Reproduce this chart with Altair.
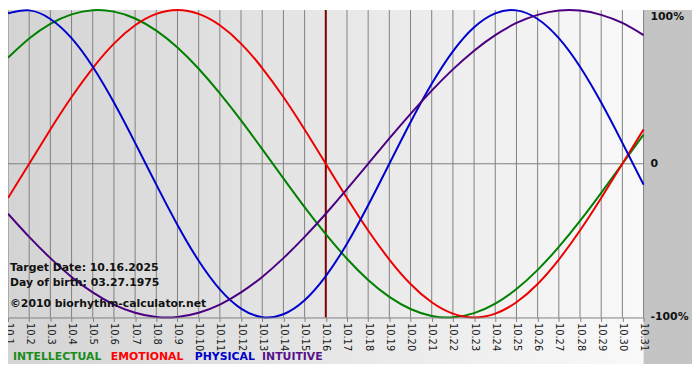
import altair as alt
import pandas as pd

# ---- data ----
day_labels = ["10.1", "10.2", "10.3", "10.4", "10.5", "10.6", "10.7", "10.8", "10.9", "10.10",
              "10.11", "10.12", "10.13", "10.14", "10.15", "10.16", "10.17", "10.18", "10.19", "10.20",
              "10.21", "10.22", "10.23", "10.24", "10.25", "10.26", "10.27", "10.28", "10.29", "10.30", "10.31"]

intellectual = [0.690, 0.815, 0.910, 0.972, 0.999, 0.990, 0.945, 0.866, 0.756, 0.618,
                0.458, 0.282, 0.095, -0.095, -0.282, -0.458, -0.618, -0.756, -0.866, -0.945,
                -0.990, -0.999, -0.972, -0.910, -0.815, -0.690, -0.541, -0.372, -0.189, 0.000, 0.189]
emotional = [-0.223, 0.000, 0.223, 0.434, 0.623, 0.782, 0.901, 0.975, 1.000, 0.975,
             0.901, 0.782, 0.623, 0.434, 0.223, 0.000, -0.223, -0.434, -0.623, -0.782,
             -0.901, -0.975, -1.000, -0.975, -0.901, -0.782, -0.623, -0.434, -0.223, 0.000, 0.223]
physical = [0.979, 0.998, 0.942, 0.817, 0.631, 0.398, 0.136, -0.136, -0.398, -0.631,
            -0.817, -0.942, -0.998, -0.979, -0.888, -0.731, -0.520, -0.270, 0.000, 0.270,
            0.520, 0.731, 0.888, 0.979, 0.998, 0.942, 0.817, 0.631, 0.398, 0.136, -0.136]
intuitive = [-0.325, -0.476, -0.614, -0.736, -0.837, -0.916, -0.969, -0.997, -0.997, -0.969,
             -0.916, -0.837, -0.736, -0.614, -0.476, -0.325, -0.165, 0.000, 0.165, 0.325,
             0.476, 0.614, 0.736, 0.837, 0.916, 0.969, 0.997, 0.997, 0.969, 0.916, 0.837]

series_names = ["INTELLECTUAL", "EMOTIONAL", "PHYSICAL", "INTUITIVE"]
target_day = "10.16"
info_lines = ["Target Date: 10.16.2025", "Day of birth: 03.27.1975", "\u00a92010 biorhythm-calculator.net"]
pct_values = [1, 0, -1]
pct_labels = ["100%", "0", "-100%"]

# ---- styles / layout ----
line_colors = ["#008000", "#ee0000", "#0000cc", "#4b0082"]
legend_colors = ["#1a8c1a", "#ff0000", "#0000cc", "#55128a"]
legend_x = [5, 104, 189, 257]
W, H = 643, 311
RIGHT, BOTTOM = 49, 47
FONT = "DejaVu Sans"

rows = []
for name, vals in zip(series_names, [intellectual, emotional, physical, intuitive]):
    for d, v in zip(day_labels, vals):
        rows.append({"day": d, "value": v, "series": name})
df = pd.DataFrame(rows)

one = pd.DataFrame({"k": [0]})

x_enc = alt.X(
    "day:O",
    sort=day_labels,
    scale=alt.Scale(type="point", padding=0, domain=day_labels),
    axis=alt.Axis(
        title=None, labelAngle=90, labelAlign="left", labelBaseline="middle",
        grid=False, zindex=1,
        ticks=True, tickSize=4, tickColor="#808080",
        domain=True, domainColor="#808080",
        labelFont=FONT, labelFontSize=10, labelColor="#1a1a1a", labelPadding=1,
        labelOverlap=False, labelFlush=False,
    ),
)
y_scale = alt.Scale(domain=[-1, 1], nice=False, zero=False)

gradient = alt.LinearGradient(
    gradient="linear",
    stops=[alt.GradientStop(color="#d4d4d4", offset=0), alt.GradientStop(color="#f9f9f9", offset=1)],
    x1=0, x2=1, y1=0, y2=0,
)

bg = alt.Chart(one).mark_rect(fill=gradient).encode(
    x=alt.value(0), x2=alt.value(W), y=alt.value(0), y2=alt.value(H + BOTTOM)
)
strip = alt.Chart(one).mark_rect(fill="#c4c4c4").encode(
    x=alt.value(W), x2=alt.value(W + RIGHT), y=alt.value(0), y2=alt.value(H + BOTTOM)
)

grid_rules = alt.Chart(pd.DataFrame({"day": day_labels})).mark_rule(
    color="#808080", strokeWidth=1
).encode(x=x_enc)

target_rule = alt.Chart(pd.DataFrame({"day": [target_day]})).mark_rule(
    color="#800000", strokeWidth=2
).encode(x=x_enc)

zero_rule = alt.Chart(pd.DataFrame({"v": [0]})).mark_rule(color="#808080", strokeWidth=1).encode(
    y=alt.Y("v:Q", scale=y_scale, axis=None)
)

lines = alt.Chart(df).mark_line(interpolate="natural", strokeWidth=2).encode(
    x=x_enc,
    y=alt.Y("value:Q", scale=y_scale, axis=None),
    color=alt.Color("series:N", scale=alt.Scale(domain=series_names, range=line_colors), legend=None),
)

pct_df = pd.DataFrame({"v": pct_values, "t": pct_labels})
pct_top = alt.Chart(pct_df.iloc[:1]).mark_text(
    align="left", baseline="top", dy=1, font=FONT, fontSize=11, fontWeight="bold", color="#111111"
).encode(x=alt.value(W + 7), y=alt.Y("v:Q", scale=y_scale, axis=None), text="t:N")
pct_rest = alt.Chart(pct_df.iloc[1:]).mark_text(
    align="left", baseline="middle", font=FONT, fontSize=11, fontWeight="bold", color="#111111"
).encode(x=alt.value(W + 7), y=alt.Y("v:Q", scale=y_scale, axis=None), text="t:N")

info_y = [H - 50, H - 35, H - 14]
info_layers = []
for txt, yy in zip(info_lines, info_y):
    info_layers.append(
        alt.Chart(pd.DataFrame({"t": [txt]})).mark_text(
            align="left", baseline="middle", font=FONT, fontSize=11, fontWeight="bold", color="#111111"
        ).encode(x=alt.value(2), y=alt.value(yy), text="t:N")
    )

legend_layers = []
for name, col, lx in zip(series_names, legend_colors, legend_x):
    legend_layers.append(
        alt.Chart(pd.DataFrame({"t": [name]})).mark_text(
            align="left", baseline="middle", font=FONT, fontSize=11, fontWeight="bold", color=col
        ).encode(x=alt.value(lx), y=alt.value(H + 40), text="t:N")
    )

chart = alt.layer(
    bg, strip, grid_rules, zero_rule, target_rule, lines, pct_top, pct_rest, *info_layers, *legend_layers
).properties(
    width=W, height=H,
    autosize=alt.AutoSizeParams(type="none"),
    padding={"left": 0, "top": 0, "right": RIGHT, "bottom": BOTTOM},
    background="#ffffff",
).configure_view(strokeWidth=0)

chart.save("out.html", embed_options={"renderer": "svg", "actions": False})
